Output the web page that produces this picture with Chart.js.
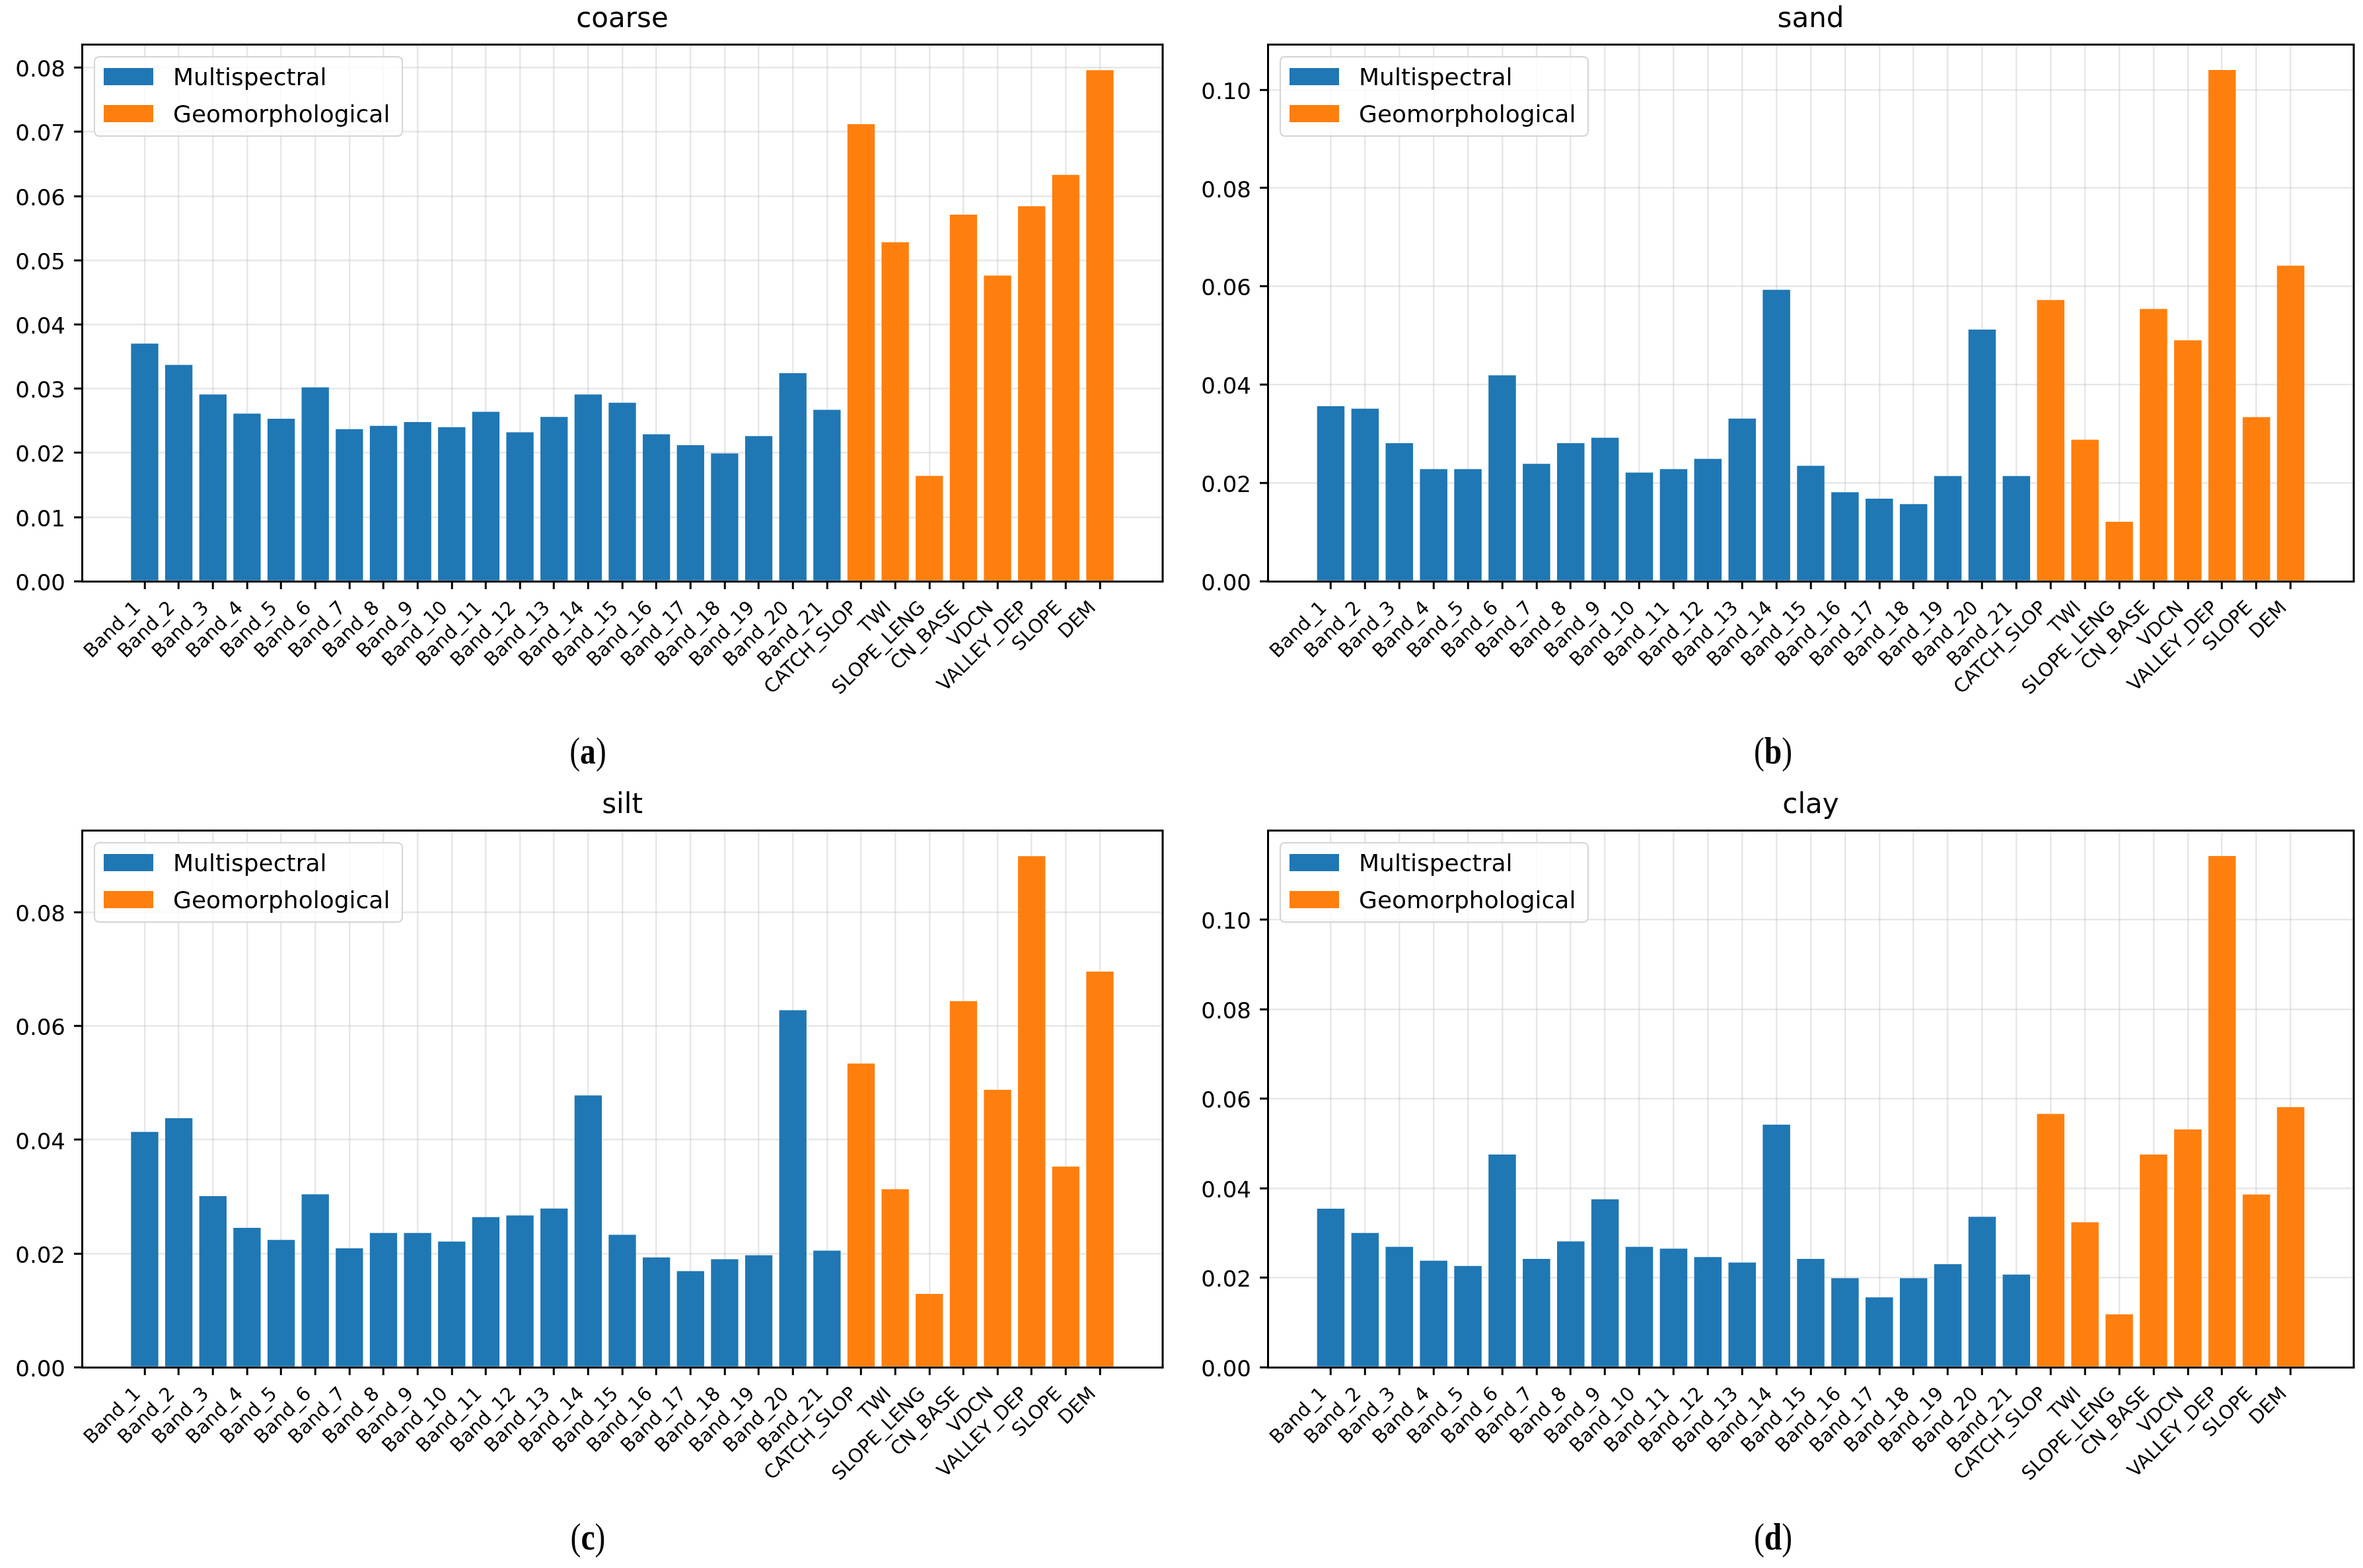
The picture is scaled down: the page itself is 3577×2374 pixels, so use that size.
<!DOCTYPE html>
<html>
<head>
<meta charset="utf-8">
<script src="https://cdn.jsdelivr.net/npm/chart.js@4.4.1/dist/chart.umd.min.js"></script>
<style>
body{margin:0;background:#fff;width:3577px;height:2374px;position:relative;overflow:hidden;font-family:"DejaVu Sans";}
.panel{position:absolute;height:1100px;}
.legend{position:absolute;box-sizing:border-box;width:468px;height:122px;border:2px solid #d4d4d4;border-radius:8px;background:rgba(255,255,255,0.8);padding-top:1px;}
.legend .row{display:flex;align-items:center;height:56px;}
.legend .sw{width:75px;height:26px;margin-left:13px;margin-right:30px;}
.legend .txt{font-family:"DejaVu Sans";font-size:36px;color:#000;}
.caption{position:absolute;font-family:"Liberation Serif";font-size:56px;color:#000;transform:translate(-50%,-50%) scaleX(0.85);}
</style>
</head>
<body>

<div class="panel" style="left:0px;top:0px;width:1790px;"><canvas id="c0"></canvas></div>
<div class="panel" style="left:1795px;top:0px;width:1782px;"><canvas id="c1"></canvas></div>
<div class="panel" style="left:0px;top:1190px;width:1790px;"><canvas id="c2"></canvas></div>
<div class="panel" style="left:1795px;top:1190px;width:1782px;"><canvas id="c3"></canvas></div>

<div class="caption" style="left:890px;top:1137px;">(<b>a</b>)</div>
<div class="caption" style="left:2684px;top:1137px;">(<b>b</b>)</div>
<div class="caption" style="left:890px;top:2327px;">(<b>c</b>)</div>
<div class="caption" style="left:2684px;top:2327px;">(<b>d</b>)</div>

<script>

// CATEGORIES
const bandLabels =
['Band_1','Band_2','Band_3','Band_4','Band_5','Band_6','Band_7',
'Band_8','Band_9','Band_10','Band_11','Band_12','Band_13','Band_14',
'Band_15','Band_16','Band_17','Band_18','Band_19','Band_20','Band_21'];

const geoLabels =
['CATCH_SLOP','TWI','SLOPE_LENG','CN_BASE','VDCN','VALLEY_DEP','SLOPE','DEM'];

const seriesNames = ['Multispectral','Geomorphological'];

const titles = ['coarse','sand','silt','clay'];


// VALUES
const coarseMulti =
[0.0370,0.0337,0.0291,0.0261,0.0253,0.0302,0.0237,0.0242,0.0248,0.0240,0.0264,
0.0232,0.0256,0.0291,0.0278,0.0229,0.0212,0.0199,0.0226,0.0324,0.0267];
const coarseGeo =
[0.0712,0.0528,0.0164,0.0571,0.0476,0.0584,0.0633,0.0796];

const sandMulti =
[0.0356,0.0351,0.0281,0.0228,0.0228,0.0419,0.0239,0.0281,0.0292,0.0221,0.0228,
0.0249,0.0331,0.0593,0.0235,0.0181,0.0168,0.0157,0.0214,0.0512,0.0214];
const sandGeo =
[0.0572,0.0288,0.0121,0.0554,0.0490,0.1040,0.0334,0.0642];

const siltMulti =
[0.0414,0.0438,0.0301,0.0245,0.0224,0.0304,0.0209,0.0236,0.0236,0.0221,0.0264,
0.0267,0.0279,0.0478,0.0233,0.0193,0.0169,0.0190,0.0197,0.0628,0.0205];
const siltGeo =
[0.0534,0.0313,0.0129,0.0644,0.0488,0.0899,0.0353,0.0696];

const clayMulti =
[0.0354,0.0300,0.0269,0.0238,0.0226,0.0475,0.0242,0.0281,0.0375,0.0269,0.0265,
0.0246,0.0234,0.0542,0.0242,0.0199,0.0156,0.0199,0.0230,0.0336,0.0207];
const clayGeo =
[0.0566,0.0324,0.0118,0.0475,0.0531,0.1142,0.0386,0.0581];


// AXES
const yMax = [0.0836,0.1092,0.0944,0.1199];
const yStep = [0.01,0.02,0.02,0.02];
const xMin = -1.84;
const xMax = 29.84;


Chart.defaults.font.family = 'DejaVu Sans';
Chart.defaults.color = '#000';

const allLabels = bandLabels.concat(geoLabels);

const gridColor = 'rgba(176,176,176,0.3)';


// top + right spines
const boxPlugin = {
    id:'box',
    afterDraw(chart){
        const a = chart.chartArea;
        const ctx = chart.ctx;
        ctx.save();
        ctx.strokeStyle = '#000';
        ctx.lineWidth = 3;
        ctx.beginPath();
        ctx.moveTo(a.left, a.top);
        ctx.lineTo(a.right, a.top);
        ctx.lineTo(a.right, a.bottom);
        ctx.stroke();
        ctx.restore();
    }
};


function addLegend(chart){

    const box = document.createElement('div');
    box.className = 'legend';
    box.style.left = (chart.chartArea.left + 18) + 'px';
    box.style.top = (chart.chartArea.top + 18) + 'px';

    chart.data.datasets.forEach(ds => {
        const row = document.createElement('div');
        row.className = 'row';
        const sw = document.createElement('div');
        sw.className = 'sw';
        sw.style.background = ds.backgroundColor;
        const txt = document.createElement('span');
        txt.className = 'txt';
        txt.textContent = ds.label;
        row.appendChild(sw);
        row.appendChild(txt);
        box.appendChild(row);
    });

    chart.canvas.parentNode.appendChild(box);

}


function makeChart(id, n, multi, geo, padRight){

    const chart = new Chart(

    document.getElementById(id),

    {
        type:'bar',

        data:{
            datasets:[
                {
                    label:seriesNames[0],
                    data:multi.map((v,i) => ({x:i, y:v})),
                    backgroundColor:'#1f77b4',
                    grouped:false
                },
                {
                    label:seriesNames[1],
                    data:geo.map((v,i) => ({x:i + bandLabels.length, y:v})),
                    backgroundColor:'#ff7f0e',
                    grouped:false
                }
            ]
        },

        options:{
            responsive:true,
            maintainAspectRatio:false,
            animation:false,
            devicePixelRatio:1,
            categoryPercentage:1,
            barPercentage:0.8,
            layout:{padding:{left:0, right:padRight, top:0, bottom:0}},
            plugins:{
                legend:{display:false},
                tooltip:{enabled:false},
                title:{
                    display:true,
                    text:titles[n],
                    fullSize:false,
                    color:'#000',
                    font:{size:42, weight:'normal'},
                    padding:{top:5, bottom:12}
                }
            },
            scales:{
                x:{
                    type:'linear',
                    min:xMin,
                    max:xMax,
                    bounds:'data',
                    offset:false,
                    z:1,
                    grid:{offset:false, color:gridColor, lineWidth:2.5, drawTicks:true, tickLength:12, tickColor:'#000', tickWidth:3},
                    border:{color:'#000', width:3},
                    ticks:{
                        autoSkip:false,
                        minRotation:45,
                        maxRotation:45,
                        padding:12,
                        labelOffset:-10,
                        font:{size:29},
                        callback:(v, i) => allLabels[i]
                    },
                    afterBuildTicks:(axis) => {
                        axis.ticks = allLabels.map((l, i) => ({value:i}));
                    },
                    afterFit:(axis) => { axis.height = 220; }
                },
                y:{
                    min:0,
                    max:yMax[n],
                    z:1,
                    grid:{color:gridColor, lineWidth:2.5, drawTicks:true, tickLength:12, tickColor:'#000', tickWidth:3},
                    border:{color:'#000', width:3},
                    ticks:{
                        stepSize:yStep[n],
                        includeBounds:false,
                        padding:13,
                        labelOffset:5,
                        font:{size:34},
                        callback:(v) => v.toFixed(2)
                    },
                    afterFit:(axis) => { axis.width = 124; }
                }
            }
        },

        plugins:[boxPlugin]
    });

    addLegend(chart);

}


makeChart('c0', 0, coarseMulti, coarseGeo, 30);
makeChart('c1', 1, sandMulti, sandGeo, 14);
makeChart('c2', 2, siltMulti, siltGeo, 30);
makeChart('c3', 3, clayMulti, clayGeo, 14);

</script>
</body>
</html>
